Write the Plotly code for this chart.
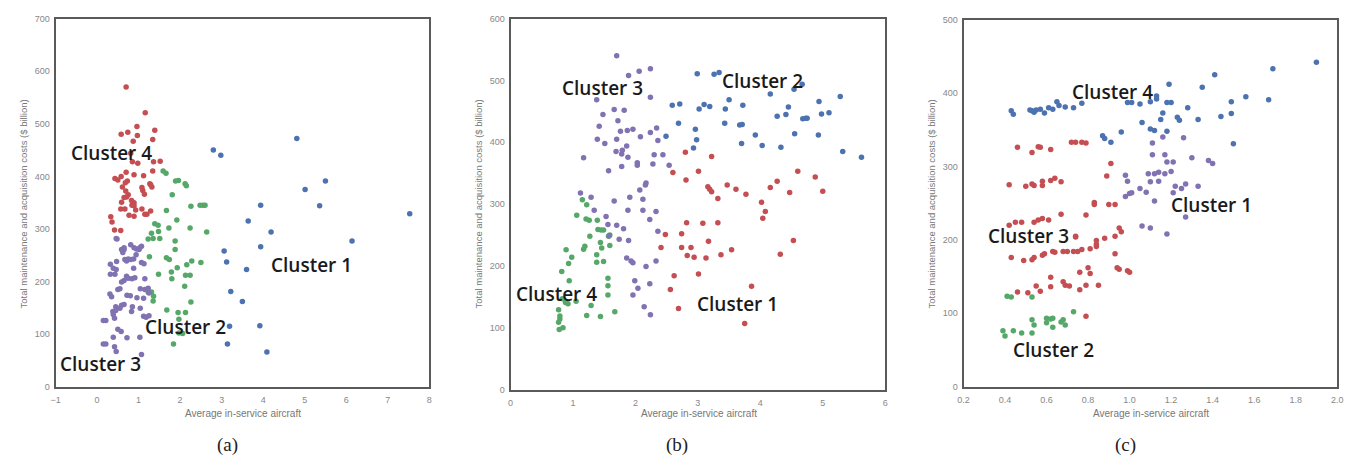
import plotly.graph_objects as go

# ---------------- panel (a) ----------------
a_c1_x = [2.80, 2.98, 4.81, 5.50, 5.01, 5.36, 3.94, 7.53, 3.64, 4.19, 6.14, 3.94, 3.06, 3.12, 3.60, 3.22, 3.50, 3.19, 3.92, 3.14, 4.09]
a_c1_y = [450, 440, 472, 391, 375, 344, 345, 329, 315, 294, 277, 266, 258, 237, 223, 181, 162, 115, 116, 81, 66]

a_c4_x = [0.70, 1.16, 1.39, 0.58, 0.74, 0.96, 0.97, 0.87, 1.34, 0.81, 0.85, 0.98, 1.36, 1.52, 1.34, 0.70, 0.89, 1.12,
          0.43, 0.50, 0.58, 0.73, 0.68, 1.27, 1.29, 1.32, 1.08, 0.61, 0.69, 0.75, 0.71, 1.14, 1.10, 0.83, 0.89, 0.84,
          0.89, 0.65, 0.59, 0.57, 0.67, 0.93, 1.08, 1.15, 1.20, 0.77, 0.89, 1.29, 0.33, 0.36, 0.42, 0.57]
a_c4_y = [570, 521, 488, 480, 484, 495, 478, 467, 470, 444, 428, 425, 428, 429, 410, 408, 403, 401,
          396, 393, 400, 391, 388, 386, 384, 380, 379, 380, 372, 365, 361, 366, 373, 354, 350, 345,
          344, 360, 351, 338, 338, 336, 338, 328, 328, 326, 324, 334, 323, 313, 298, 297]

a_c2_x = [1.59, 1.66, 1.89, 1.96, 2.12, 2.15, 1.81, 2.26, 2.48, 2.55, 2.60, 1.67, 1.92, 1.39, 1.47, 1.73, 2.24, 2.64,
          1.31, 1.48, 1.23, 1.35, 1.51, 1.88, 1.88, 1.26, 1.67, 1.74, 2.50, 2.28, 2.16, 1.93, 1.79, 1.48, 2.13, 2.24,
          2.11, 1.80, 1.31, 1.36, 1.35, 1.23, 2.26, 1.68, 1.95, 2.13, 1.97, 1.97, 2.06, 1.84]
a_c2_y = [410, 406, 391, 392, 386, 382, 365, 343, 345, 345, 345, 335, 317, 310, 307, 302, 302, 294,
          292, 295, 281, 282, 282, 277, 261, 247, 245, 242, 236, 239, 232, 226, 218, 214, 212, 212,
          191, 205, 180, 172, 163, 180, 161, 146, 141, 141, 128, 102, 101, 81]

a_c3_x = [0.46, 0.48, 0.81, 0.89, 1.03, 1.07, 0.65, 0.62, 0.94, 0.67, 0.75, 0.81, 0.88, 0.71, 0.47, 0.32, 1.07, 1.13,
          0.39, 0.46, 0.32, 0.43, 0.88, 0.71, 0.75, 0.84, 0.91, 0.65, 0.59, 1.15, 1.04, 1.15, 0.50, 0.55, 0.31, 0.35,
          0.72, 0.80, 0.96, 1.12, 1.23, 1.25, 0.59, 0.65, 0.45, 0.55, 0.45, 0.38, 0.85, 1.04, 0.83, 1.12, 1.18, 1.25,
          0.39, 0.42, 0.21, 0.15, 0.50, 0.58, 0.39, 0.72, 1.03, 0.15, 0.21, 0.42, 0.46, 1.07, 0.59, 0.65, 0.95, 1.01]
a_c3_y = [282, 281, 270, 264, 264, 267, 261, 255, 251, 242, 243, 242, 243, 239, 238, 233, 236, 234,
          225, 223, 214, 214, 225, 210, 206, 205, 207, 202, 199, 205, 186, 185, 185, 186, 176, 171,
          174, 173, 169, 168, 187, 178, 155, 156, 152, 149, 145, 143, 152, 149, 143, 134, 132, 135,
          137, 130, 126, 126, 109, 105, 94, 93, 94, 81, 81, 76, 67, 61, 261, 264, 262, 261]

# ---------------- panel (b) ----------------
b_c2_x = [2.99, 3.26, 3.34, 2.59, 2.71, 3.02, 3.10, 3.19, 3.44, 3.50, 3.72, 4.16, 4.54, 4.67, 4.27, 4.41, 4.45,
          4.68, 4.73, 4.75, 4.94, 4.98, 5.10, 5.28, 2.69, 2.96, 2.98, 2.93, 2.49, 3.43, 3.67, 3.71, 3.70, 3.92,
          4.03, 4.33, 4.55, 4.93, 5.32, 5.62]
b_c2_y = [511, 510, 513, 460, 462, 454, 461, 458, 454, 469, 460, 478, 486, 494, 442, 445, 457,
          438, 439, 439, 466, 446, 448, 474, 431, 421, 404, 391, 410, 431, 428, 429, 398, 412,
          395, 392, 414, 412, 385, 376]

b_c1_x = [2.80, 3.22, 2.60, 3.01, 2.81, 4.60, 4.88, 5.00, 4.47, 4.27, 4.16, 3.47, 3.61, 3.77, 3.16, 3.19, 3.22,
          3.32, 4.02, 4.08, 4.04, 2.82, 3.08, 3.32, 2.74, 3.17, 2.48, 2.41, 2.74, 2.89, 2.83, 2.94, 3.13, 3.37,
          3.54, 4.53, 4.32, 2.62, 3.01, 2.56, 3.86, 2.69, 3.75]
b_c1_y = [384, 377, 351, 353, 339, 353, 344, 321, 319, 337, 327, 331, 324, 316, 328, 324, 320,
          309, 303, 288, 277, 270, 269, 270, 252, 240, 251, 230, 230, 230, 217, 214, 213, 218,
          226, 241, 219, 184, 187, 162, 167, 131, 107]

b_c3_x = [1.70, 1.89, 2.06, 2.24, 2.24, 1.38, 1.48, 1.42, 1.39, 1.66, 1.72, 1.82, 1.51, 1.70, 1.76, 1.87, 1.96,
          2.08, 2.24, 2.34, 2.36, 1.17, 1.57, 1.69, 1.78, 1.79, 1.86, 1.78, 1.88, 2.03, 2.03, 2.30, 2.28, 2.44,
          2.54, 2.17, 2.16, 2.07, 1.66, 1.91, 2.12, 1.88, 2.12, 2.33, 2.23, 2.36, 1.70, 1.81, 1.74, 1.89, 1.86,
          1.93, 1.96, 2.17, 2.33, 1.99, 2.04, 1.96, 2.14, 2.24, 2.23, 1.12, 1.29, 1.34, 1.53, 1.56, 1.58]
b_c3_y = [540, 508, 515, 519, 473, 469, 445, 426, 405, 453, 435, 452, 398, 405, 418, 419, 421,
          409, 416, 423, 403, 375, 354, 385, 381, 387, 394, 361, 376, 367, 363, 380, 365, 380,
          363, 334, 331, 323, 305, 311, 308, 290, 290, 288, 275, 256, 266, 260, 243, 241, 213,
          208, 205, 199, 208, 176, 164, 153, 134, 121, 171, 318, 311, 290, 280, 267, 249]

b_c4_x = [1.15, 1.22, 1.06, 1.21, 1.26, 1.39, 1.40, 1.45, 1.49, 1.27, 1.57, 1.59, 1.44, 1.46, 1.59, 1.19, 1.17,
          1.38, 1.38, 0.89, 0.98, 0.93, 1.49, 0.82, 0.94, 1.56, 1.56, 1.56, 0.83, 0.88, 0.92, 1.05, 1.29, 1.67,
          1.22, 1.44, 0.77, 0.79, 0.79, 0.77, 0.78, 0.84]
b_c4_y = [307, 299, 282, 276, 274, 274, 259, 258, 258, 248, 248, 250, 238, 229, 233, 232, 227,
          218, 206, 226, 214, 204, 207, 191, 176, 180, 168, 153, 147, 141, 139, 143, 136, 126,
          120, 118, 129, 119, 114, 109, 97, 100]

# ---------------- panel (c) ----------------
c_c4_x = [1.90, 1.69, 1.41, 1.56, 1.67, 1.49, 1.49, 1.50, 1.35, 1.44, 1.33, 1.28, 1.19, 1.18, 1.18, 1.20, 1.15,
          1.16, 1.23, 1.24, 1.13, 1.13, 1.12, 1.10, 1.05, 1.01, 0.99, 1.06, 1.10, 0.96, 0.87, 0.88, 0.91, 0.77,
          0.73, 0.69, 0.66, 0.65, 0.63, 0.61, 0.59, 0.55, 0.54, 0.53, 0.52, 0.57, 0.43, 0.44]
c_c4_y = [442, 433, 425, 395, 391, 388, 372, 331, 408, 368, 364, 380, 412, 387, 348, 387, 364,
          373, 367, 363, 396, 392, 349, 388, 385, 387, 387, 360, 351, 347, 342, 338, 333, 386,
          380, 381, 383, 388, 378, 380, 373, 377, 374, 376, 377, 378, 376, 371]

c_c1_x = [1.26, 1.16, 1.11, 1.11, 1.17, 1.18, 1.21, 1.30, 1.38, 1.40, 1.09, 1.12, 1.14, 1.17, 1.20, 0.98, 0.99,
          1.01, 1.00, 0.98, 1.05, 1.08, 1.10, 1.14, 1.12, 1.21, 1.22, 1.25, 1.27, 1.33, 1.27, 1.06, 1.10, 1.18]
c_c1_y = [339, 340, 332, 316, 316, 306, 306, 312, 308, 304, 290, 290, 292, 290, 293, 288, 280,
          264, 263, 259, 270, 265, 279, 280, 253, 264, 273, 270, 276, 273, 231, 219, 216, 208]

c_c3_x = [0.46, 0.53, 0.56, 0.57, 0.62, 0.72, 0.74, 0.77, 0.79, 0.91, 0.89, 0.83, 0.83, 0.90, 0.93,
          0.42, 0.50, 0.53, 0.54, 0.58, 0.58, 0.62, 0.64, 0.67, 0.79, 0.67,
          0.42, 0.45, 0.48, 0.54, 0.56, 0.58, 0.61, 0.74, 0.74, 0.84, 0.88, 0.95, 0.96, 0.93,
          0.43, 0.49, 0.53, 0.54, 0.58, 0.59, 0.63, 0.64, 0.68, 0.70, 0.73, 0.75, 0.77, 0.81, 0.84, 0.84,
          0.93, 0.95, 0.94, 0.99, 1.00, 0.80, 0.81, 0.76,
          0.46, 0.51, 0.57, 0.62, 0.62, 0.55, 0.68, 0.69, 0.71, 0.76, 0.79, 0.85, 0.79]
c_c3_y = [326, 319, 327, 326, 323, 333, 333, 333, 332, 304, 287, 251, 248, 248, 248,
          275, 273, 276, 274, 280, 274, 281, 284, 279, 234, 235,
          220, 224, 224, 224, 227, 229, 227, 205, 204, 199, 202, 216, 211, 205,
          176, 172, 173, 176, 179, 181, 184, 183, 184, 184, 184, 184, 187, 188, 191, 194,
          181, 160, 162, 158, 156, 162, 154, 156,
          129, 128, 130, 136, 149, 137, 143, 138, 137, 132, 138, 138, 96]

c_c2_x = [0.41, 0.43, 0.53, 0.39, 0.40, 0.44, 0.48, 0.53, 0.53, 0.54, 0.60, 0.62, 0.63, 0.60, 0.63, 0.67, 0.69,
          0.68, 0.73]
c_c2_y = [123, 122, 122, 76, 69, 76, 73, 73, 91, 84, 93, 92, 93, 87, 81, 88, 84, 91, 102]

# ---------------- styling ----------------
RED = "#C44E52"
GREEN = "#55A868"
PURPLE = "#8172B2"
BLUE = "#4C72B0"

W, H = 1364, 465
panels = [
    dict(px=(50, 427), py=(14, 390), xr=[-1, 8], yr=[0, 700], xt=list(range(-1, 9)), yt=list(range(0, 701, 100)),
         cap="(a)", capx=223, xt_fmt=None),
    dict(px=(509, 887), py=(14, 393), xr=[0, 6], yr=[0, 600], xt=list(range(0, 7)), yt=list(range(0, 601, 100)),
         cap="(b)", capx=677, xt_fmt=None),
    dict(px=(966, 1343), py=(15, 390), xr=[0.2, 2.0], yr=[0, 500], xt=[0.2, 0.4, 0.6, 0.8, 1.0, 1.2, 1.4, 1.6, 1.8, 2.0],
         yt=list(range(0, 501, 100)), cap="(c)", capx=1129, xt_fmt=".1f"),
]

series = [
    [(a_c4_x, a_c4_y, RED), (a_c2_x, a_c2_y, GREEN), (a_c3_x, a_c3_y, PURPLE), (a_c1_x, a_c1_y, BLUE)],
    [(b_c1_x, b_c1_y, RED), (b_c4_x, b_c4_y, GREEN), (b_c3_x, b_c3_y, PURPLE), (b_c2_x, b_c2_y, BLUE)],
    [(c_c3_x, c_c3_y, RED), (c_c2_x, c_c2_y, GREEN), (c_c1_x, c_c1_y, PURPLE), (c_c4_x, c_c4_y, BLUE)],
]

cluster_labels = [
    [("Cluster 4", 0.34, 445), ("Cluster 1", 5.16, 231), ("Cluster 2", 2.14, 113), ("Cluster 3", 0.09, 43)],
    [("Cluster 3", 1.48, 488), ("Cluster 2", 4.04, 500), ("Cluster 4", 0.73, 155), ("Cluster 1", 3.64, 139)],
    [("Cluster 4", 0.916, 402), ("Cluster 1", 1.395, 247), ("Cluster 3", 0.512, 205), ("Cluster 2", 0.634, 50)],
]

fig = go.Figure()
annotations = []

for i, p in enumerate(panels):
    n = "" if i == 0 else str(i + 1)
    xa, ya = "x" + n, "y" + n
    for xs, ys, col in series[i]:
        fig.add_trace(go.Scatter(
            x=xs, y=ys, mode="markers", xaxis=xa, yaxis=ya, showlegend=False,
            marker=dict(color=col, size=5.5, line=dict(width=0)),
        ))
    axis_common = dict(showgrid=False, zeroline=False, showline=True, mirror=True,
                       linecolor="#5a5a5a", linewidth=2, ticks="",
                       tickfont=dict(family="Liberation Sans", size=9, color="#888888"))
    fig.update_layout(**{
        "xaxis" + n: dict(domain=[p["px"][0] / W, p["px"][1] / W], range=p["xr"], tickvals=p["xt"],
                          tickformat=p["xt_fmt"], anchor=ya, ticklabelstandoff=4, **axis_common),
        "yaxis" + n: dict(domain=[1 - p["py"][1] / H, 1 - p["py"][0] / H], range=p["yr"], tickvals=p["yt"],
                          anchor=xa, ticklabelstandoff=2, **axis_common),
    })
    cx = (p["px"][0] + p["px"][1]) / 2
    annotations.append(dict(text="Average in-service aircraft", xref="paper", yref="paper",
                            x=(cx + 1) / W, y=1 - 417 / H, xanchor="center", yanchor="middle", showarrow=False,
                            font=dict(family="Liberation Sans", size=10, color="#777777")))
    annotations.append(dict(text="Total maintenance and acquisition costs ($ billion)", xref="paper", yref="paper",
                            x=(p["px"][0] - 32) / W, y=1 - 203 / H, xanchor="center", yanchor="middle",
                            textangle=-90, showarrow=False,
                            font=dict(family="Liberation Sans", size=9.5, color="#777777")))
    annotations.append(dict(text=p["cap"], xref="paper", yref="paper", x=p["capx"] / W, y=1 - 450 / H,
                            xanchor="center", yanchor="middle",
                            showarrow=False, font=dict(family="Liberation Serif", size=19, color="#222222")))
    for txt, lx, ly in cluster_labels[i]:
        annotations.append(dict(text=txt, xref=xa, yref=ya, x=lx, y=ly, xanchor="center", yanchor="middle",
                                showarrow=False,
                                font=dict(family="Open Sans", size=19, color="#1a1a1a", weight=600)))

fig.update_layout(width=W, height=H, margin=dict(l=0, r=0, t=0, b=0),
                  paper_bgcolor="white", plot_bgcolor="white", annotations=annotations)

fig.write_html("out.html")
